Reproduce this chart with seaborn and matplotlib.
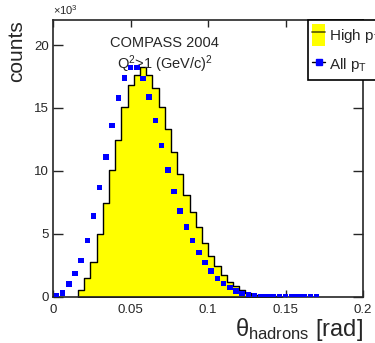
import numpy as np
import pandas as pd
import matplotlib
matplotlib.use("Agg")
import matplotlib.pyplot as plt
import seaborn as sns
from matplotlib.patches import Patch
from matplotlib.lines import Line2D

# high pT histogram: bin left edges (rad) and counts (x10^3)
hi_edges = [0.016, 0.020, 0.024, 0.028, 0.032, 0.036, 0.040, 0.044, 0.048, 0.052,
            0.056, 0.060, 0.064, 0.068, 0.072, 0.076, 0.080, 0.084, 0.088, 0.092,
            0.096, 0.100, 0.104, 0.108, 0.112, 0.116, 0.120, 0.124, 0.128, 0.132,
            0.136, 0.140, 0.144, 0.148]
hi_counts = [0.53, 1.46, 2.78, 4.95, 7.47, 10.07, 12.45, 15.05, 16.85, 17.6,
             18.28, 17.6, 16.55, 15.1, 13.3, 11.47, 9.72, 8.08, 6.75, 5.5,
             4.3, 3.25, 2.46, 1.72, 1.19, 0.85, 0.53, 0.32, 0.16, 0.08,
             0.04, 0.02, 0.01]

# all pT points: bin centres (rad) and counts (x10^3)
all_x = [0.002, 0.006, 0.010, 0.014, 0.018, 0.022, 0.026, 0.030, 0.034, 0.038,
         0.042, 0.046, 0.050, 0.054, 0.058, 0.062, 0.066, 0.070, 0.074, 0.078,
         0.082, 0.086, 0.090, 0.094, 0.098, 0.102, 0.106, 0.110, 0.114, 0.118,
         0.122, 0.126, 0.130, 0.134, 0.138, 0.142, 0.146, 0.150, 0.154, 0.158,
         0.162, 0.166, 0.170]
all_counts = [0.05, 0.3, 1.0, 1.85, 2.86, 4.45, 6.4, 8.68, 11.1, 13.6,
              15.8, 17.4, 18.2, 18.2, 17.35, 15.85, 14.0, 12.0, 10.07, 8.35,
              6.83, 5.56, 4.45, 3.52, 2.73, 2.04, 1.46, 1.06, 0.72, 0.45,
              0.26, 0.12, 0.06, 0.03, 0.02, 0.01, 0.01, 0.01, 0.01, 0.01,
              0.01, 0.01, 0.01]

xticks = [0, 0.05, 0.1, 0.15, 0.2]
xtick_labels = ["0", "0.05", "0.1", "0.15", "0.2"]
yticks = [0, 5, 10, 15, 20]

sns.set_style("ticks")
plt.rcParams['font.family'] = ['Liberation Sans', 'DejaVu Sans']
plt.rcParams['mathtext.fontset'] = 'custom'
plt.rcParams['mathtext.rm'] = 'Liberation Sans'
plt.rcParams['mathtext.it'] = 'Liberation Sans:italic'

fig = plt.figure(figsize=(3.75, 3.43), dpi=100)
ax = fig.add_axes([0.142, 0.135, 0.826, 0.807])

centres = [e + 0.002 for e in hi_edges[:-1]]
hist_df = pd.DataFrame({"theta": centres, "w": hi_counts})
sns.histplot(data=hist_df, x="theta", weights="w", bins=hi_edges, element="step",
             fill=True, color="#ffff00", alpha=1, edgecolor="black", linewidth=1.0, ax=ax)

pts = pd.DataFrame({"theta": all_x, "n": all_counts})
sns.scatterplot(data=pts, x="theta", y="n", marker="s", s=16, color="#0000ff",
                edgecolor="none", ax=ax, zorder=5)

ax.set_xlim(0, 0.2)
ax.set_ylim(0, 22)
ax.set_xticks(xticks)
ax.set_xticklabels(xtick_labels)
ax.set_yticks(yticks)
ax.tick_params(axis='x', direction='in', top=True, length=5, width=1, labelsize=9.5, pad=5)
ax.tick_params(axis='y', direction='in', right=True, length=7, width=1, labelsize=9.5, pad=3)
for s in ax.spines.values():
    s.set_linewidth(1.2)

ax.set_xlabel("θ$_{\\mathrm{hadrons}}$ [rad]", fontsize=17, loc='right', labelpad=0)
ax.set_ylabel("counts", fontsize=15, loc='top', labelpad=6)
ax.text(0.0, 1.01, "×10$^{3}$", transform=ax.transAxes, fontsize=8, ha='left', va='bottom')

ax.text(0.36, 0.915, "COMPASS 2004", transform=ax.transAxes, fontsize=10.5, ha='center', va='center')
ax.text(0.36, 0.84, "Q$^{2}$>1 (GeV/c)$^{2}$", transform=ax.transAxes, fontsize=10.5,
        ha='center', va='center')

h1 = (Patch(facecolor="#ffff00", edgecolor="none"),
      Line2D([], [], color="#555500", lw=1.2))
h2 = Line2D([], [], color="black", lw=1, marker="s", markersize=4,
            markerfacecolor="#0000ff", markeredgecolor="#0000ff")
leg = fig.legend([h1, h2], ["High p$_{\\mathrm{T}}$", "All p$_{\\mathrm{T}}$"], loc='upper left',
                 bbox_to_anchor=(0.821, 0.942), fontsize=11, frameon=True, fancybox=False,
                 edgecolor='black', framealpha=1, handlelength=0.85, handleheight=1.8,
                 handletextpad=0.25, labelspacing=0.5, borderpad=0.3, borderaxespad=0)
leg.get_frame().set_linewidth(1.2)

fig.savefig("out.png", dpi=100)
